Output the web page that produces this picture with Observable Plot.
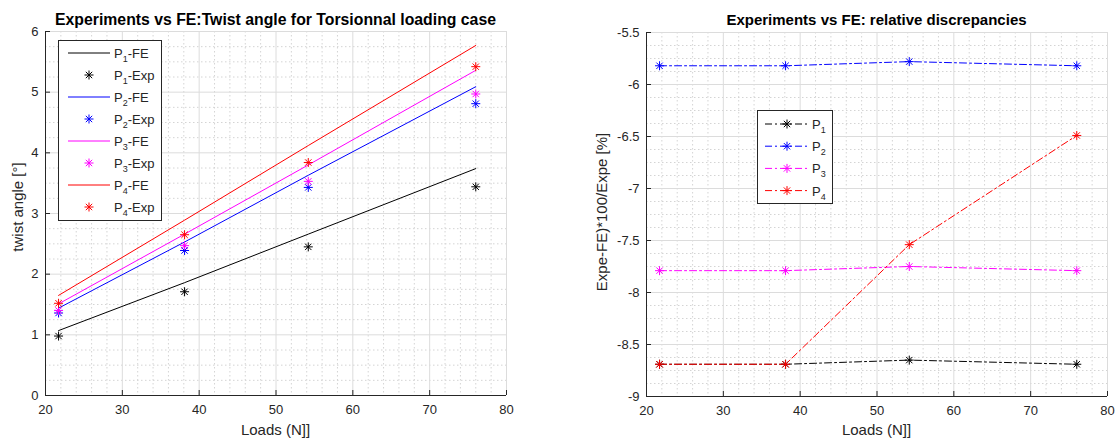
<!DOCTYPE html>
<html><head><meta charset="utf-8">
<script src="https://cdn.jsdelivr.net/npm/d3@7"></script>
<script src="https://cdn.jsdelivr.net/npm/@observablehq/plot@0.6"></script>
<style>
body{margin:0;background:#fff;}
#wrap{position:relative;width:1115px;height:442px;overflow:hidden;background:#fff}
#wrap > svg{position:absolute;top:0}
</style></head><body><div id="wrap"></div><script>
// ---------- data ----------
const loads = [21.7, 38.1, 54.2, 76];
const series = ["P1", "P2", "P3", "P4"];
const seriesSub = ["1", "2", "3", "4"];
const colors = ["#000000", "#0000ff", "#ff00ff", "#ff0000"];
const feP1 = [1.07, 1.86, 2.66, 3.74];
const feP2 = [1.44, 2.53, 3.63, 5.09];
const feP3 = [1.51, 2.66, 3.80, 5.36];
const feP4 = [1.65, 2.89, 4.12, 5.77];
const expP1 = [0.98, 1.71, 2.45, 3.44];
const expP2 = [1.36, 2.39, 3.43, 4.81];
const expP3 = [1.40, 2.47, 3.53, 4.97];
const expP4 = [1.52, 2.65, 3.84, 5.42];
const discP1 = [-8.69, -8.69, -8.65, -8.69];
const discP2 = [-5.82, -5.82, -5.78, -5.82];
const discP3 = [-7.79, -7.79, -7.75, -7.79];
const discP4 = [-8.69, -8.69, -7.54, -6.49];
const xTicks = [20, 30, 40, 50, 60, 70, 80];
const yTicksL = [0, 1, 2, 3, 4, 5, 6];
const yTicksR = [-9, -8.5, -8, -7.5, -7, -6.5, -6, -5.5];
const titleL = "Experiments vs FE:Twist angle for Torsionnal loading case";
const titleR = "Experiments vs FE: relative discrepancies";
const xLabel = "Loads (N]]";
const yLabelL = "twist angle [°]";
const yLabelR = "Expe-FE)*100/Expe [%]";

// ---------- tables ----------
const feAll = [feP1, feP2, feP3, feP4];
const expAll = [expP1, expP2, expP3, expP4];
const discAll = [discP1, discP2, discP3, discP4];
const toRows = (arrs) => arrs.flatMap((vals, i) => vals.map((v, j) => ({series: series[i], load: loads[j], value: v})));
const feRows = toRows(feAll);
const expRows = toRows(expAll);
const discRows = toRows(discAll);

const xMinor = d3.range(20, 80.001, 2).filter(v => v % 10 !== 0);
const yMinorL = d3.range(0, 6.001, 0.25).filter(v => v % 1 !== 0);
const yMinorR = d3.range(-9, -5.499, 0.125).filter(v => Math.abs(v * 2 - Math.round(v * 2)) > 1e-6);

// MATLAB-like '*' marker (plus + cross)
const star = {
  draw(ctx, size) {
    const r = Math.sqrt(size / Math.PI), d = r * Math.SQRT1_2;
    ctx.moveTo(-r, 0); ctx.lineTo(r, 0);
    ctx.moveTo(0, -r); ctx.lineTo(0, r);
    ctx.moveTo(-d, -d); ctx.lineTo(d, d);
    ctx.moveTo(-d, d); ctx.lineTo(d, -d);
  }
};

const axisColor = "#262626";
const gridMajor = "#dcdcdc";
const gridMinor = "#d4d4d4";
const fw = 461, fh = 364;
const fmt = d => String(d);

function frameMarks(yTicks, yMinor, yMin) {
  return [
    Plot.ruleX(xMinor, {x: d => d, stroke: gridMinor, strokeDasharray: "1.5,2.5"}),
    Plot.ruleY(yMinor, {y: d => d, stroke: gridMinor, strokeDasharray: "1.5,2.5"}),
    Plot.ruleX(xTicks, {x: d => d, stroke: gridMajor}),
    Plot.ruleY(yTicks, {y: d => d, stroke: gridMajor}),
    Plot.ruleX([20], {x: d => d, stroke: axisColor}),
    Plot.ruleY([yMin], {y: d => d, stroke: axisColor}),
    Plot.ruleX(xTicks, {x: d => d, stroke: axisColor, insetTop: fh - 5}),
    Plot.ruleY(yTicks, {y: d => d, stroke: axisColor, insetRight: fw - 5}),
    Plot.axisX({ticks: xTicks, tickSize: 0, tickPadding: 9, tickFormat: fmt, label: null, fill: axisColor}),
    Plot.axisY({ticks: yTicks, tickSize: 0, tickPadding: 7, tickFormat: fmt, label: null, fill: axisColor})
  ];
}

const style = {fontFamily: "'Liberation Sans', Arial, sans-serif", fontSize: "13px", background: "transparent", overflow: "visible"};

const left = Plot.plot({
  width: 557, height: 442,
  marginLeft: 45, marginRight: 51, marginTop: 31, marginBottom: 47,
  x: {domain: [20, 80]},
  y: {domain: [0, 6]},
  color: {domain: series, range: colors},
  style,
  marks: [
    ...frameMarks(yTicksL, yMinorL, 0),
    Plot.line(feRows, {x: "load", y: "value", z: "series", stroke: "series", strokeWidth: 1}),
    Plot.dot(expRows, {x: "load", y: "value", stroke: "series", fill: "none", symbol: star, r: 4.5, strokeWidth: 1})
  ]
});
left.style.left = "0px";

const right = Plot.plot({
  width: 558, height: 442,
  marginLeft: 89, marginRight: 8, marginTop: 32, marginBottom: 46,
  x: {domain: [20, 80]},
  y: {domain: [-9, -5.5]},
  color: {domain: series, range: colors},
  style,
  marks: [
    ...frameMarks(yTicksR, yMinorR, -9),
    Plot.line(discRows, {x: "load", y: "value", z: "series", stroke: "series", strokeWidth: 1, strokeDasharray: "7,3,2,3"}),
    Plot.dot(discRows, {x: "load", y: "value", stroke: "series", fill: "none", symbol: star, r: 4.5, strokeWidth: 1})
  ]
});
right.style.left = "557px";

const wrap = document.getElementById("wrap");
wrap.appendChild(left);
wrap.appendChild(right);

// ---------- overlay text + legends ----------
const ov = d3.select(wrap).append("svg")
  .attr("width", 1115).attr("height", 442)
  .style("left", "0px").style("pointer-events", "none")
  .style("font-family", "'Liberation Sans', Arial, sans-serif");

ov.append("text").attr("x", 275.5).attr("y", 25).attr("text-anchor", "middle")
  .attr("font-weight", "bold").attr("font-size", 15.8).attr("fill", "#000").text(titleL);
ov.append("text").attr("x", 876.5).attr("y", 25).attr("text-anchor", "middle")
  .attr("font-weight", "bold").attr("font-size", 15).attr("fill", "#000").text(titleR);
[275.5, 876.5].forEach(x => ov.append("text").attr("x", x).attr("y", 435).attr("text-anchor", "middle")
  .attr("font-size", 15).attr("fill", axisColor).text(xLabel));
ov.append("text").attr("transform", "translate(23,207) rotate(-90)").attr("text-anchor", "middle")
  .attr("font-size", 15).attr("fill", axisColor).text(yLabelL);
ov.append("text").attr("transform", "translate(607,212) rotate(-90)").attr("text-anchor", "middle")
  .attr("font-size", 15).attr("fill", axisColor).text(yLabelR);

function starPath(cx, cy, r) {
  const p = d3.path(); star.draw({moveTo: (x, y) => p.moveTo(cx + x, cy + y), lineTo: (x, y) => p.lineTo(cx + x, cy + y)}, r * r * Math.PI);
  return p.toString();
}
function label(g, x, y, sub, suffix) {
  const t = g.append("text").attr("x", x).attr("y", y + 5).attr("font-size", 13).attr("fill", axisColor);
  t.append("tspan").text("P");
  t.append("tspan").attr("font-size", 9).attr("dy", 4).text(sub);
  t.append("tspan").attr("dy", -4).text(suffix);
}

// left legend
const gl = ov.append("g");
gl.append("rect").attr("x", 58.5).attr("y", 40.5).attr("width", 103).attr("height", 180)
  .attr("fill", "#fff").attr("stroke", axisColor);
series.forEach((s, i) => {
  const y1 = 53 + i * 44, y2 = y1 + 22;
  gl.append("line").attr("x1", 68).attr("x2", 110).attr("y1", y1).attr("y2", y1).attr("stroke", colors[i]);
  label(gl, 114, y1, seriesSub[i], "-FE");
  gl.append("path").attr("d", starPath(89, y2, 4.5)).attr("stroke", colors[i]).attr("fill", "none");
  label(gl, 114, y2, seriesSub[i], "-Exp");
});

// right legend
const gr = ov.append("g");
gr.append("rect").attr("x", 757.5).attr("y", 110.5).attr("width", 75).attr("height", 93)
  .attr("fill", "#fff").attr("stroke", axisColor);
series.forEach((s, i) => {
  const y = 124 + i * 22.2;
  gr.append("line").attr("x1", 765).attr("x2", 808).attr("y1", y).attr("y2", y).attr("stroke", colors[i]).attr("stroke-dasharray", "7,3,2,3");
  gr.append("path").attr("d", starPath(787, y, 4.5)).attr("stroke", colors[i]).attr("fill", "none");
  label(gr, 812, y, seriesSub[i], "");
});
</script></body></html>
